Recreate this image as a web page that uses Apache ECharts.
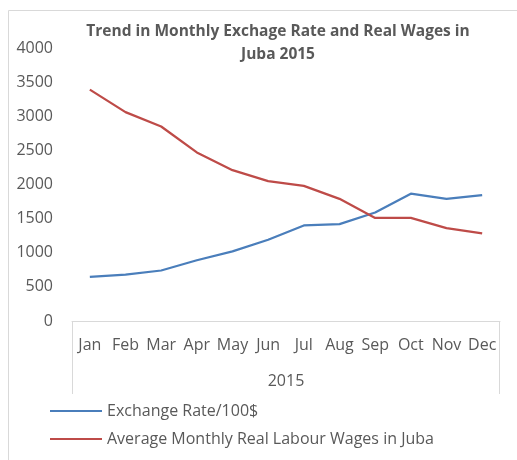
<!DOCTYPE html>
<html><head><meta charset="utf-8">
<script src="https://cdn.jsdelivr.net/npm/echarts@6/dist/echarts.min.js"></script>
<style>html,body{margin:0;padding:0;background:#fff}#c{width:517px;height:460px}</style>
</head><body><div id="c"></div>
<script>
var months = ['Jan','Feb','Mar','Apr','May','Jun','Jul','Aug','Sep','Oct','Nov','Dec'];
var exchangeRate = [645, 680, 740, 890, 1020, 1190, 1400, 1420, 1590, 1865, 1790, 1845];
var realWages = [3390, 3060, 2850, 2470, 2210, 2050, 1980, 1790, 1510, 1510, 1360, 1285];
var yTicks = [0, 500, 1000, 1500, 2000, 2500, 3000, 3500, 4000];
var seriesNames = ['Exchange Rate/100$', 'Average Monthly Real Labour Wages in Juba'];

var FONT = 'Open Sans';
var chart = echarts.init(document.getElementById('c'), null, {renderer:'canvas'});
chart.setOption({
  animation: false,
  title: {
    text: 'Trend in Monthly Exchage Rate and Real Wages in\nJuba 2015',
    left: 273, top: 15, textAlign: 'center',
    textStyle: {fontFamily: FONT, fontSize: 15.5, fontWeight: 'bold', color: '#595959', lineHeight: 23}
  },
  legend: {
    orient: 'vertical', left: 45, top: 398, itemWidth: 52, itemHeight: 2, itemGap: 12,
    icon: 'rect',
    textStyle: {fontFamily: FONT, fontSize: 16, color: '#595959'},
    data: seriesNames
  },
  grid: {left: 72, right: 17, top: 48, bottom: 139},
  xAxis: {
    type: 'category', data: months, boundaryGap: true,
    name: '2015', nameLocation: 'middle', nameGap: 52,
    nameTextStyle: {fontFamily: FONT, fontSize: 16, color: '#595959'},
    axisLine: {lineStyle: {color: '#d9d9d9', width: 1}},
    axisTick: {show: false},
    axisLabel: {fontFamily: FONT, fontSize: 16, color: '#595959', margin: 16, interval: 0}
  },
  yAxis: {
    type: 'value', min: yTicks[0], max: yTicks[yTicks.length-1], interval: yTicks[1]-yTicks[0],
    axisLine: {show: false}, axisTick: {show: false}, splitLine: {show: false},
    axisLabel: {fontFamily: FONT, fontSize: 16, color: '#595959', margin: 19, formatter: function (v) { return String(v); }}
  },
  graphic: [
    {type: 'rect', shape: {x: 8.5, y: 10.5, width: 700, height: 700}, style: {fill: 'none', stroke: '#d9d9d9', lineWidth: 1}, silent: true},
    {type: 'line', shape: {x1: 72.5, y1: 321, x2: 72.5, y2: 394}, style: {stroke: '#d9d9d9', lineWidth: 1}, silent: true},
    {type: 'line', shape: {x1: 499.5, y1: 321, x2: 499.5, y2: 394}, style: {stroke: '#d9d9d9', lineWidth: 1}, silent: true}
  ],
  series: [
    {name: seriesNames[0], type: 'line', data: exchangeRate, symbol: 'none', lineStyle: {width: 2.25, color: '#4a7ebb'}, itemStyle: {color: '#4a7ebb'}},
    {name: seriesNames[1], type: 'line', data: realWages, symbol: 'none', lineStyle: {width: 2.25, color: '#be4b48'}, itemStyle: {color: '#be4b48'}}
  ]
});
</script></body></html>
